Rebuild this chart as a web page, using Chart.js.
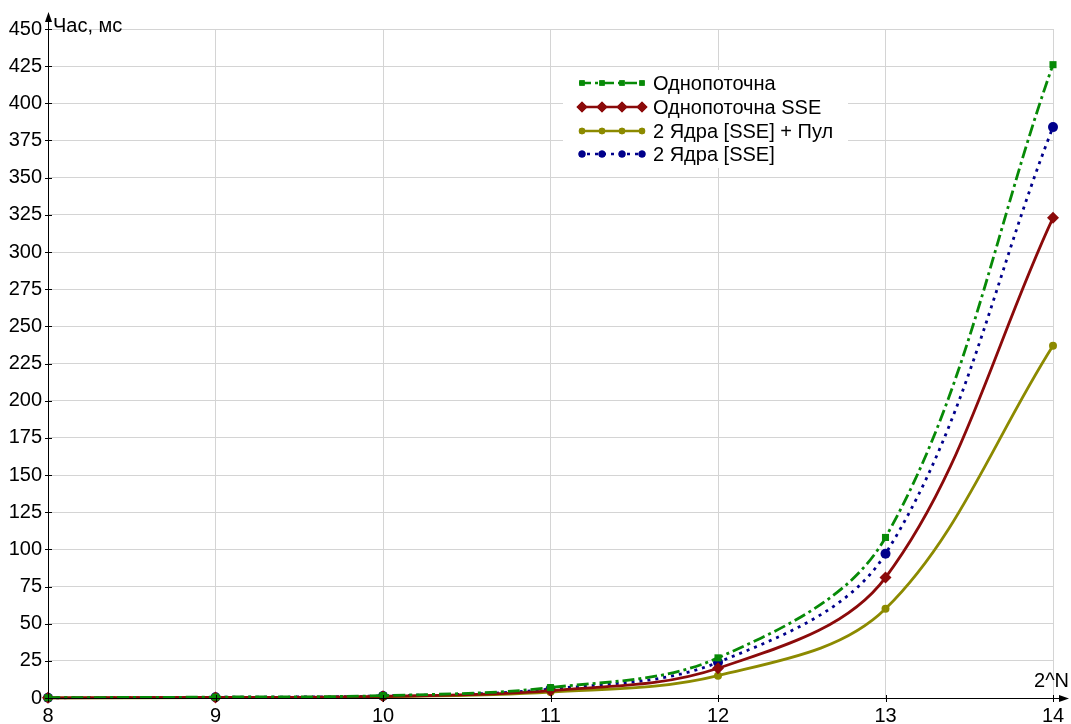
<!DOCTYPE html>
<html>
<head>
<meta charset="utf-8">
<script src="https://cdn.jsdelivr.net/npm/chart.js@4/dist/chart.umd.min.js"></script>
<style>
html,body{margin:0;padding:0;background:#fff;}
#wrap{width:1071px;height:724px;position:relative;}
</style>
</head>
<body>
<div id="wrap"><canvas id="c"></canvas></div>
<script>
const categories = [8, 9, 10, 11, 12, 13, 14];
const seriesNames = ["Однопоточна", "Однопоточна SSE", "2 Ядра [SSE] + Пул", "2 Ядра [SSE]"];
const single    = [0.2, 0.6, 1.6, 7, 27, 108, 426];
const singleSSE = [0.1, 0.4, 1.1, 5, 20, 81, 323];
const dualPool  = [0.1, 0.3, 0.9, 4, 15, 60, 237];
const dualSSE   = [0.15, 0.5, 1.4, 6, 24, 97, 384];
const yTicks = [0,25,50,75,100,125,150,175,200,225,250,275,300,325,350,375,400,425,450];
const xTicks = [8,9,10,11,12,13,14];
const yTitle = "Час, мс";
const xTitle = "2^N";

const FONT = "Liberation Sans";
const FS = 20;
const pts = arr => categories.map((x,i)=>({x:x,y:arr[i]}));

const styles = [
  {color:'#078a07', dash:[12,4,3,4], pointStyle:'rect', r:5, lr:3.8},
  {color:'#8b0a0a', dash:[], pointStyle:'rectRot', r:6, lr:5.5},
  {color:'#8c8a00', dash:[], pointStyle:'circle', r:4, lr:3.2},
  {color:'#00008b', dash:[3,5], pointStyle:'circle', r:5, lr:3.5}
];
const seriesData = [single, singleSSE, dualPool, dualSSE];

const datasets = seriesData.map((arr,i)=>({
  label: seriesNames[i],
  data: pts(arr),
  borderColor: styles[i].color,
  backgroundColor: styles[i].color,
  borderWidth: 2.8,
  borderDash: styles[i].dash,
  pointStyle: styles[i].pointStyle,
  pointRadius: styles[i].r,
  pointBorderWidth: 0,
  pointHoverRadius: styles[i].r,
  tension: 0.35,
  clip: false
}));

const axesPlugin = {
  id:'axesPlugin',
  afterDatasetsDraw(chart){
    const ctx = chart.ctx, a = chart.chartArea;
    const xs = chart.scales.x, ys = chart.scales.y;
    ctx.save();
    ctx.strokeStyle = '#000'; ctx.fillStyle = '#000'; ctx.lineWidth = 1;
    // y axis
    ctx.beginPath(); ctx.moveTo(a.left+0.5, a.bottom); ctx.lineTo(a.left+0.5, 18); ctx.stroke();
    ctx.beginPath(); ctx.moveTo(a.left+0.5, 12); ctx.lineTo(a.left-3, 22); ctx.lineTo(a.left+4, 22); ctx.closePath(); ctx.fill();
    // x axis
    ctx.beginPath(); ctx.moveTo(a.left, a.bottom+0.5); ctx.lineTo(1062, a.bottom+0.5); ctx.stroke();
    ctx.beginPath(); ctx.moveTo(1069, a.bottom+0.5); ctx.lineTo(1059, a.bottom-3); ctx.lineTo(1059, a.bottom+4); ctx.closePath(); ctx.fill();
    // ticks
    yTicks.forEach(v=>{ const y = Math.round(ys.getPixelForValue(v))+0.5; ctx.beginPath(); ctx.moveTo(a.left-3,y); ctx.lineTo(a.left+4,y); ctx.stroke(); });
    xTicks.forEach(v=>{ const x = Math.round(xs.getPixelForValue(v))+0.5; ctx.beginPath(); ctx.moveTo(x,a.bottom-3); ctx.lineTo(x,a.bottom+4); ctx.stroke(); });
    // titles
    ctx.font = FS+'px "'+FONT+'"';
    ctx.textBaseline = 'middle'; ctx.textAlign = 'left';
    ctx.fillText(yTitle, 53, 26);
    ctx.textAlign = 'right';
    ctx.fillText(xTitle, 1069, 681);

    // legend
    const lx = 563, ly = 70, lw = 285, lh = 98;
    ctx.fillStyle = '#fff';
    ctx.fillRect(lx, ly, lw, lh);
    const rows = [83, 107, 131, 154];
    const mx = [582, 602, 622, 642];
    datasets.forEach((d,i)=>{
      const y = rows[i];
      ctx.strokeStyle = d.borderColor; ctx.lineWidth = 2.6;
      ctx.setLineDash(d.borderDash);
      ctx.beginPath(); ctx.moveTo(579, y); ctx.lineTo(645, y); ctx.stroke();
      ctx.setLineDash([]);
      ctx.fillStyle = d.borderColor;
      mx.forEach(x=>{
        Chart.helpers.drawPoint(ctx, {pointStyle:d.pointStyle, radius:styles[i].lr, rotation:0, borderWidth:0}, x, y);
        ctx.fill();
      });
      ctx.fillStyle = '#000';
      ctx.font = FS+'px "'+FONT+'"';
      ctx.textAlign = 'left'; ctx.textBaseline = 'middle';
      ctx.fillText(d.label, 653, y+1);
    });
    ctx.restore();
  }
};

new Chart(document.getElementById('c'), {
  type:'line',
  data:{datasets:datasets},
  options:{
    responsive:true, maintainAspectRatio:false, animation:false,
    layout:{padding:{top:29, right:18, left:0, bottom:0}},
    plugins:{legend:{display:false}, tooltip:{enabled:false}},
    scales:{
      x:{type:'linear', min:8, max:14,
        afterBuildTicks: s => { s.ticks = xTicks.map(v=>({value:v})); },
        afterFit: s => { s.height = 26; },
        grid:{color:'#d4d4d4', drawTicks:false},
        border:{display:false},
        ticks:{color:'#000', font:{family:FONT, size:FS}, padding:6, maxRotation:0}
      },
      y:{type:'linear', min:0, max:450,
        afterBuildTicks: s => { s.ticks = yTicks.map(v=>({value:v})); },
        afterFit: s => { s.width = 48; },
        grid:{color:'#d4d4d4', drawTicks:false},
        border:{display:false},
        ticks:{color:'#000', font:{family:FONT, size:FS}, padding:6}
      }
    }
  },
  plugins:[axesPlugin]
});
</script>
</body>
</html>
